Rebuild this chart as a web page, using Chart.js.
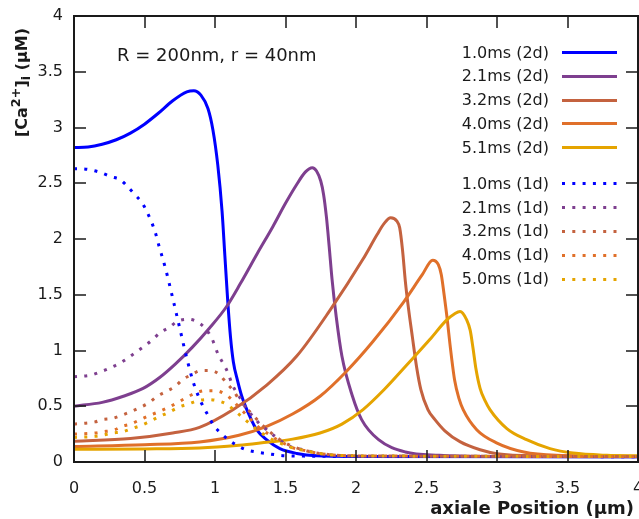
<!DOCTYPE html>
<html>
<head>
<meta charset="utf-8">
<script src="https://cdn.jsdelivr.net/npm/chart.js@4.4.1/dist/chart.umd.min.js"></script>
<style>
  html, body { margin: 0; padding: 0; overflow: hidden; background: #ffffff; }
  canvas { display: block; }
</style>
</head>
<body>
<canvas id="chart" width="644" height="519"></canvas>
<script>
// Axis ticks (µm along the axis, µM concentration)
const xTickValues = [0, 0.5, 1, 1.5, 2, 2.5, 3, 3.5, 4];
const yTickValues = [0, 0.5, 1, 1.5, 2, 2.5, 3, 3.5, 4];

const seriesLabels = [
  '1.0ms (2d)', '2.1ms (2d)', '3.2ms (2d)', '4.0ms (2d)', '5.1ms (2d)',
  '1.0ms (1d)', '2.1ms (1d)', '3.2ms (1d)', '4.0ms (1d)', '5.0ms (1d)'
];
const seriesColors = ['#0000ff', '#7e3f8f', '#c4623f', '#e0702a', '#e5a400',
                      '#0000ff', '#7e3f8f', '#c4623f', '#e0702a', '#e5a400'];

// 2d model, t = 1.0 ms
const pos2d10 = [0, 0.1, 0.2, 0.3, 0.4, 0.5, 0.6, 0.7, 0.8, 0.85, 0.9, 0.95, 0.985, 1.02, 1.05, 1.07, 1.09, 1.11, 1.13, 1.16, 1.19, 1.25, 1.295, 1.365, 1.46, 1.58, 1.72, 2.0, 4.0];
const ca2d10  = [2.82, 2.825, 2.85, 2.89, 2.95, 3.03, 3.13, 3.24, 3.32, 3.33, 3.29, 3.17, 2.98, 2.66, 2.25, 1.85, 1.45, 1.12, 0.9, 0.73, 0.59, 0.4, 0.29, 0.2, 0.12, 0.077, 0.056, 0.05, 0.048];

// 2d model, t = 2.1 ms
const pos2d21 = [0, 0.2, 0.35, 0.49, 0.61, 0.72, 0.84, 0.96, 1.08, 1.18, 1.3, 1.41, 1.5, 1.575, 1.64, 1.69, 1.72, 1.75, 1.77, 1.79, 1.81, 1.83, 1.86, 1.9, 1.975, 2.04, 2.16, 2.35, 2.59, 3.0, 4.0];
const ca2d21  = [0.5, 0.535, 0.59, 0.66, 0.76, 0.88, 1.03, 1.2, 1.39, 1.6, 1.87, 2.11, 2.32, 2.48, 2.6, 2.64, 2.61, 2.52, 2.4, 2.2, 1.93, 1.64, 1.3, 0.95, 0.59, 0.38, 0.2, 0.09, 0.06, 0.05, 0.048];

// 2d model, t = 3.2 ms
const pos2d32 = [0, 0.4, 0.7, 0.89, 1.13, 1.367, 1.58, 1.815, 2.05, 2.15, 2.2, 2.246, 2.29, 2.31, 2.33, 2.35, 2.37, 2.4, 2.43, 2.46, 2.51, 2.56, 2.63, 2.74, 2.88, 3.0, 3.3, 4.0];
const ca2d32  = [0.185, 0.21, 0.26, 0.31, 0.47, 0.69, 0.95, 1.36, 1.82, 2.04, 2.14, 2.19, 2.16, 2.1, 1.9, 1.62, 1.4, 1.12, 0.85, 0.65, 0.47, 0.38, 0.28, 0.18, 0.11, 0.075, 0.055, 0.05];

// 2d model, t = 4.0 ms
const pos2d40 = [0, 0.5, 0.89, 1.17, 1.367, 1.55, 1.745, 1.93, 2.12, 2.335, 2.47, 2.544, 2.584, 2.605, 2.625, 2.648, 2.667, 2.7, 2.73, 2.76, 2.856, 3.0, 3.19, 3.42, 4.0];
const ca2d40  = [0.14, 0.155, 0.18, 0.24, 0.32, 0.43, 0.59, 0.81, 1.08, 1.43, 1.68, 1.81, 1.77, 1.68, 1.5, 1.27, 1.05, 0.73, 0.57, 0.47, 0.29, 0.17, 0.09, 0.06, 0.05];

// 2d model, t = 5.1 ms
const pos2d51 = [0, 0.5, 0.89, 1.17, 1.32, 1.55, 1.745, 1.9, 2.05, 2.2, 2.36, 2.525, 2.64, 2.7, 2.738, 2.785, 2.81, 2.83, 2.85, 2.88, 2.915, 2.95, 3.07, 3.21, 3.376, 3.54, 3.78, 4.0];
const ca2d51  = [0.115, 0.117, 0.125, 0.15, 0.17, 0.205, 0.26, 0.34, 0.47, 0.65, 0.87, 1.1, 1.27, 1.33, 1.35, 1.275, 1.18, 1.02, 0.84, 0.66, 0.55, 0.47, 0.3, 0.2, 0.12, 0.08, 0.06, 0.055];

// 1d model, t = 1.0 ms
const pos1d10 = [0, 0.044, 0.18, 0.26, 0.33, 0.38, 0.43, 0.48, 0.515, 0.574, 0.6, 0.65, 0.7, 0.75, 0.8, 0.85, 0.9, 0.95, 0.99, 1.04, 1.095, 1.155, 1.22, 1.29, 1.36, 1.51, 2.0, 4.0];
const ca1d10  = [2.63, 2.63, 2.6, 2.56, 2.53, 2.47, 2.4, 2.33, 2.25, 2.07, 1.95, 1.73, 1.47, 1.2, 0.93, 0.7, 0.54, 0.42, 0.33, 0.26, 0.2, 0.15, 0.11, 0.09, 0.077, 0.056, 0.05, 0.048];

// 1d model, t = 2.1 ms
const pos1d21 = [0, 0.12, 0.19, 0.25, 0.33, 0.38, 0.445, 0.5, 0.56, 0.61, 0.68, 0.73, 0.81, 0.87, 0.93, 0.977, 1.024, 1.06, 1.095, 1.12, 1.15, 1.19, 1.225, 1.27, 1.31, 1.367, 1.425, 1.48, 1.55, 1.63, 1.72, 2.0, 4.0];
const ca1d21  = [0.765, 0.78, 0.81, 0.84, 0.89, 0.93, 0.99, 1.04, 1.1, 1.16, 1.21, 1.26, 1.28, 1.26, 1.2, 1.11, 0.96, 0.88, 0.79, 0.7, 0.63, 0.55, 0.47, 0.41, 0.35, 0.29, 0.23, 0.18, 0.13, 0.11, 0.08, 0.055, 0.05];

// 1d model, t = 3.2 ms
const pos1d32 = [0, 0.15, 0.2, 0.27, 0.34, 0.4, 0.47, 0.53, 0.59, 0.65, 0.72, 0.77, 0.83, 0.9, 0.97, 1.035, 1.08, 1.13, 1.177, 1.27, 1.32, 1.38, 1.44, 1.5, 1.57, 1.65, 1.72, 2.0, 4.0];
const ca1d32  = [0.34, 0.36, 0.38, 0.39, 0.42, 0.45, 0.49, 0.53, 0.59, 0.63, 0.68, 0.74, 0.78, 0.82, 0.82, 0.78, 0.71, 0.64, 0.55, 0.42, 0.35, 0.28, 0.22, 0.17, 0.13, 0.1, 0.08, 0.055, 0.05];

// 1d model, t = 4.0 ms
const pos1d40 = [0, 0.15, 0.2, 0.29, 0.34, 0.4, 0.47, 0.54, 0.6, 0.67, 0.73, 0.8, 0.865, 0.93, 1.0, 1.07, 1.12, 1.17, 1.225, 1.27, 1.32, 1.38, 1.44, 1.5, 1.57, 1.65, 1.72, 2.0, 4.0];
const ca1d40  = [0.25, 0.26, 0.27, 0.29, 0.32, 0.34, 0.38, 0.42, 0.45, 0.49, 0.53, 0.58, 0.62, 0.64, 0.64, 0.61, 0.56, 0.49, 0.42, 0.36, 0.3, 0.25, 0.2, 0.16, 0.12, 0.1, 0.08, 0.055, 0.05];

// 1d model, t = 5.0 ms
const pos1d50 = [0, 0.15, 0.2, 0.27, 0.34, 0.41, 0.48, 0.53, 0.61, 0.68, 0.74, 0.81, 0.88, 0.945, 1.016, 1.08, 1.14, 1.196, 1.25, 1.31, 1.367, 1.425, 1.5, 1.57, 1.65, 1.72, 2.0, 4.0];
const ca1d50  = [0.22, 0.23, 0.24, 0.26, 0.27, 0.3, 0.33, 0.36, 0.41, 0.45, 0.49, 0.52, 0.55, 0.56, 0.55, 0.52, 0.46, 0.4, 0.34, 0.28, 0.23, 0.19, 0.15, 0.12, 0.1, 0.08, 0.055, 0.05];

const seriesX = [pos2d10, pos2d21, pos2d32, pos2d40, pos2d51, pos1d10, pos1d21, pos1d32, pos1d40, pos1d50];
const seriesY = [ca2d10, ca2d21, ca2d32, ca2d40, ca2d51, ca1d10, ca1d21, ca1d32, ca1d40, ca1d50];

const FONT = "'DejaVu Sans', Verdana, sans-serif";
const INK = '#1a1a1a';
const DOT_DASH = [3, 7.3];

const datasets = seriesLabels.map((label, i) => ({
  label,
  data: seriesX[i].map((x, k) => ({ x, y: seriesY[i][k] })),
  borderColor: seriesColors[i],
  backgroundColor: seriesColors[i],
  borderWidth: 3,
  borderDash: i >= 5 ? DOT_DASH : [],
  borderCapStyle: 'butt',
  borderJoinStyle: 'round',
  pointRadius: 0,
  cubicInterpolationMode: 'monotone',
  fill: false,
  order: seriesLabels.length - i   // later curves are painted on top
}));

// Frame, inward tick marks on all four sides, titles, note and key
const decorations = {
  id: 'decorations',
  afterDatasetsDraw(chart) {
    const { ctx, chartArea: a, scales } = chart;
    const xs = scales.x, ys = scales.y;
    ctx.save();

    // frame
    ctx.strokeStyle = INK;
    ctx.lineWidth = 2;
    ctx.strokeRect(a.left, a.top, a.right - a.left, a.bottom - a.top);

    // tick marks pointing into the plot
    const TL = 12;
    ctx.lineWidth = 1.5;
    ctx.beginPath();
    xTickValues.forEach(v => {
      const px = Math.round(xs.getPixelForValue(v));
      ctx.moveTo(px, a.bottom); ctx.lineTo(px, a.bottom - TL);
      ctx.moveTo(px, a.top);    ctx.lineTo(px, a.top + TL);
    });
    yTickValues.forEach(v => {
      const py = Math.round(ys.getPixelForValue(v));
      ctx.moveTo(a.left, py);  ctx.lineTo(a.left + TL, py);
      ctx.moveTo(a.right, py); ctx.lineTo(a.right - TL, py);
    });
    ctx.stroke();

    // y-axis title: [Ca2+]i (µM), rotated
    ctx.fillStyle = INK;
    ctx.save();
    ctx.translate(27, 137);
    ctx.rotate(-Math.PI / 2);
    ctx.textBaseline = 'alphabetic';
    ctx.textAlign = 'left';
    let cx = 0;
    const run = (txt, size, dy) => {
      ctx.font = 'bold ' + size + 'px ' + FONT;
      ctx.fillText(txt, cx, dy);
      cx += ctx.measureText(txt).width;
    };
    run('[Ca', 16, 0);
    run('2+', 12.8, -7);
    run(']', 16, 0);
    run('i', 12.8, 3);
    run(' (µM)', 16, 0);
    ctx.restore();

    // x-axis title
    ctx.font = 'bold 18px ' + FONT;
    ctx.textAlign = 'right';
    ctx.textBaseline = 'alphabetic';
    ctx.fillText('axiale Position (µm)', 634, 514);

    // parameter note
    ctx.font = '18px ' + FONT;
    ctx.textAlign = 'left';
    ctx.fillText('R = 200nm, r = 40nm', a.left + 43, 61);

    // key: text right-aligned, line sample to its right
    const textRight = 549, lineL = 562, lineR = 617;
    chart.data.datasets.forEach((ds, i) => {
      const rowY = i < 5 ? 52 + 23.8 * i : 183.3 + 23.8 * (i - 5);
      ctx.font = '16px ' + FONT;
      ctx.fillStyle = INK;
      ctx.textAlign = 'right';
      ctx.textBaseline = 'alphabetic';
      ctx.fillText(ds.label, textRight, rowY + 5.5);
      ctx.strokeStyle = ds.borderColor;
      ctx.lineWidth = ds.borderWidth;
      ctx.lineCap = 'butt';
      ctx.setLineDash(ds.borderDash);
      ctx.beginPath();
      ctx.moveTo(lineL, Math.round(rowY) + 0.5);
      ctx.lineTo(lineR, Math.round(rowY) + 0.5);
      ctx.stroke();
      ctx.setLineDash([]);
    });
    ctx.restore();
  }
};

const hiddenTicks = (len) => ({
  display: true, drawOnChartArea: false, drawTicks: true,
  tickLength: len, color: 'rgba(0,0,0,0)'
});

new Chart(document.getElementById('chart'), {
  type: 'line',
  data: { datasets },
  options: {
    responsive: false,
    animation: false,
    devicePixelRatio: 1,
    layout: { padding: { top: 16, right: 6, bottom: 0, left: 0 } },
    plugins: { legend: { display: false }, tooltip: { enabled: false } },
    elements: { line: { tension: 0 } },
    scales: {
      x: {
        type: 'linear', min: 0, max: 4,
        afterBuildTicks: s => { s.ticks = xTickValues.map(v => ({ value: v })); },
        afterFit: s => { s.height = 57; },
        ticks: { color: INK, font: { family: FONT, size: 16 }, padding: 0, maxRotation: 0,
                 callback: v => String(v) },
        grid: hiddenTicks(17),
        border: { display: false }
      },
      y: {
        type: 'linear', min: 0, max: 4,
        afterBuildTicks: s => { s.ticks = yTickValues.map(v => ({ value: v })); },
        afterFit: s => { s.width = 74; },
        ticks: { color: INK, font: { family: FONT, size: 16 }, padding: 0,
                 callback: v => String(v) },
        grid: hiddenTicks(11),
        border: { display: false }
      }
    }
  },
  plugins: [decorations]
});
</script>
</body>
</html>
